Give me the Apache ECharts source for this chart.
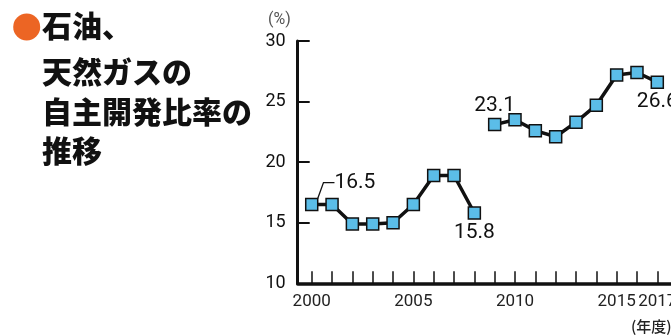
<!DOCTYPE html>
<html><head><meta charset="utf-8">
<script src="https://cdn.jsdelivr.net/npm/echarts@6/dist/echarts.min.js"></script>
<style>html,body{margin:0;padding:0;background:#fff}#c{width:671px;height:336px}</style>
</head><body><div id="c"></div>
<script>
// Data
const yearsA = [2000, 2001, 2002, 2003, 2004, 2005, 2006, 2007, 2008];
const valuesA = [16.5, 16.5, 14.9, 14.9, 15.0, 16.5, 18.9, 18.9, 15.8];
const yearsB = [2009, 2010, 2011, 2012, 2013, 2014, 2015, 2016, 2017];
const valuesB = [23.1, 23.5, 22.6, 22.1, 23.3, 24.7, 27.2, 27.4, 26.6];
const tickYears = [2000, 2001, 2002, 2003, 2004, 2005, 2006, 2007, 2008, 2009, 2010, 2011, 2012, 2013, 2014, 2015, 2016, 2017, 2018];
const labelYears = [2000, 2005, 2010, 2015, 2017];
const yTicks = [10, 15, 20, 25, 30];
const labelAbove = [2009];
const labelBelow = [2008, 2017];
const labelLeader = [2000];
const titleLine1 = '石油、';
const titleRest = '天然ガスの\n自主開発比率の\n推移';
const yUnit = '(%)';
const xUnit = '(年度)';

const NUM_FONT = 'Roboto, "Liberation Sans", sans-serif';
const CJK_FONT = '"Noto Sans CJK JP", "Noto Sans", sans-serif';

function build(years, vals) {
  return years.map((y, i) => {
    const item = { value: [y, vals[i]] };
    if (labelAbove.includes(y)) item.label = { show: true, position: 'top', distance: 2 };
    if (labelBelow.includes(y)) item.label = { show: true, position: 'bottom', distance: 2 };
    if (labelLeader.includes(y)) {
      item.label = { show: true, position: 'right', distance: 5 };
      item.labelLine = { show: true, length2: 11, lineStyle: { color: '#111', width: 1.3 } };
    }
    return item;
  });
}

const seriesStyle = {
  type: 'line',
  symbol: 'rect',
  symbolSize: 12,
  showAllSymbol: true,
  z: 3,
  lineStyle: { color: '#111', width: 3.5 },
  itemStyle: { color: '#5bbde8', borderColor: '#111', borderWidth: 1.5 },
  label: { show: false, color: '#111', fontSize: 21, fontFamily: NUM_FONT },
  emphasis: { disabled: true }
};

const chart = echarts.init(document.getElementById('c'), null, { renderer: 'canvas' });
chart.setOption({
  animation: false,
  backgroundColor: '#fff',
  title: [
    { text: titleLine1, left: 42, top: 7, padding: 0,
      textStyle: { fontFamily: CJK_FONT, fontSize: 30, fontWeight: 900, color: '#111', lineHeight: 37 } },
    { text: titleRest, left: 42, top: 52, padding: 0,
      textStyle: { fontFamily: CJK_FONT, fontSize: 30, fontWeight: 900, color: '#111', lineHeight: 39.5 } }
  ],
  graphic: [
    { type: 'circle', shape: { cx: 26.7, cy: 27, r: 13.5 }, style: { fill: '#ec6524' } },
    { type: 'text', left: 631, top: 319,
      style: { text: xUnit, fontFamily: CJK_FONT, fontSize: 15, fontWeight: 500, fill: '#222' } }
  ],
  grid: { left: 297.7, top: 41, bottom: 52.7, width: 390.1, containLabel: false, outerBoundsMode: 'none' },
  xAxis: {
    type: 'value',
    min: 1999.31,
    max: 2018.5,
    axisLine: { show: true, lineStyle: { color: '#111', width: 3.5 } },
    axisTick: { show: true, inside: true, length: 12, customValues: tickYears,
      lineStyle: { color: '#111', width: 1.5 } },
    axisLabel: { show: true, customValues: labelYears, fontSize: 17, color: '#222', margin: 10,
      fontFamily: NUM_FONT, formatter: v => String(v) },
    splitLine: { show: false }
  },
  yAxis: {
    type: 'value',
    min: 10,
    max: 30,
    interval: 5,
    name: yUnit,
    nameLocation: 'end',
    nameGap: 13,
    nameTextStyle: { fontSize: 16, color: '#555', align: 'right', padding: [0, 7, 0, 0], fontFamily: NUM_FONT },
    axisLine: { show: true, lineStyle: { color: '#111', width: 3 } },
    axisTick: { show: true, inside: true, length: 12, lineStyle: { color: '#111', width: 2 } },
    axisLabel: { fontSize: 18, color: '#111', margin: 12, fontFamily: NUM_FONT,
      formatter: v => (yTicks.includes(v) ? String(v) : '') },
    splitLine: { show: false }
  },
  series: [
    Object.assign({}, seriesStyle, {
      name: 'A',
      data: build(yearsA, valuesA),
      labelLayout: p => (p.dataIndex === 0 ? { dx: 11, dy: -22 } : {})
    }),
    Object.assign({}, seriesStyle, {
      name: 'B',
      data: build(yearsB, valuesB)
    })
  ]
});
</script>
</body></html>
